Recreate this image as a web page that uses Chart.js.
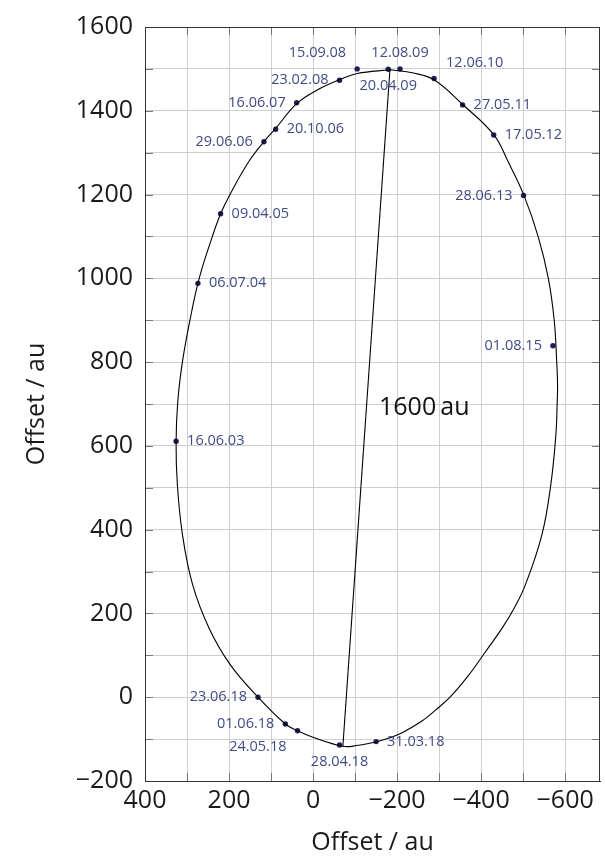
<!DOCTYPE html>
<html>
<head>
<meta charset="utf-8">
<script src="https://cdn.jsdelivr.net/npm/chart.js@4.4.1/dist/chart.umd.min.js"></script>
<style>
  html, body { margin: 0; padding: 0; background: #fff; }
  #wrap { width: 605px; height: 859px; }
</style>
</head>
<body>
<div id="wrap"><canvas id="orbitChart"></canvas></div>
<script>
// observation dates and offsets (au)
const dates = ['16.06.03', '06.07.04', '09.04.05', '29.06.06', '20.10.06', '16.06.07', '23.02.08',
  '15.09.08', '20.04.09', '12.08.09', '12.06.10', '27.05.11', '17.05.12', '28.06.13', '01.08.15',
  '31.03.18', '28.04.18', '24.05.18', '01.06.18', '23.06.18'];
const offsetX = [326, 274, 220, 117, 89, 39, -63, -105, -179, -207, -288, -356, -430, -501, -571,
  -150, -63, 37, 66, 131];
const offsetY = [611, 988, 1154, 1326, 1356, 1419, 1473, 1500, 1499, 1500, 1477, 1414, 1342, 1198, 839,
  -106, -114, -80, -64, 0];

// orbit outline (clockwise from apocentre)
const orbitX = [-183, -239, -288, -356, -430, -465, -502, -536, -560, -574, -580, -582, -581, -578,
  -566, -545, -506, -480, -450, -410, -370, -326, -290, -263, -207, -160, -100, -71, -1, 37, 66,
  131, 198, 248, 287, 311, 323, 326, 322, 311, 293, 271, 240, 220, 199, 154, 117, 89, 39, -9, -63,
  -105, -183];
const orbitY = [1498, 1490, 1474, 1415, 1343, 1277, 1198, 1099, 1000, 900, 800, 746, 700, 627,
  508, 389, 270, 215, 165, 108, 52, 0, -32, -54, -87, -104, -116, -117, -96, -80, -64,
  0, 79, 166, 270, 389, 508, 608, 706, 800, 900, 1000, 1099, 1154, 1198, 1277, 1326, 1358, 1417,
  1449, 1474, 1489, 1498];

// major axis, pericentre to apocentre
const majorX = [-71, -183];
const majorY = [-117, 1498];
const majorLabel = '1600\u2009au';
const majorLabelAt = { x: -157, y: 691 };

// ticks
const xTicks = [400, 300, 200, 100, 0, -100, -200, -300, -400, -500, -600];
const yTicks = [-200, -100, 0, 100, 200, 300, 400, 500, 600, 700, 800, 900, 1000, 1100, 1200, 1300, 1400, 1500, 1600];
const xLabelled = [400, 200, 0, -200, -400, -600];
const yLabelled = [-200, 0, 200, 400, 600, 800, 1000, 1200, 1400, 1600];

// where each date label sits relative to its point
const labelSide = {
  '16.06.03': 'r', '06.07.04': 'r', '09.04.05': 'r', '29.06.06': 'l', '20.10.06': 'r',
  '16.06.07': 'l', '23.02.08': 'l', '15.09.08': 'al', '20.04.09': 'b', '12.08.09': 'a',
  '12.06.10': 'ar', '27.05.11': 'r', '17.05.12': 'r', '28.06.13': 'l', '01.08.15': 'l',
  '31.03.18': 'r', '28.04.18': 'b', '24.05.18': 'bl', '01.06.18': 'l', '23.06.18': 'l'
};

const FONT = "'Open Sans', sans-serif";
const fmt = v => (v < 0 ? '\u2212' + Math.abs(v) : String(v));

const dateLabels = {
  id: 'dateLabels',
  afterDatasetsDraw(chart) {
    const { ctx, scales: { x, y } } = chart;
    ctx.save();
    ctx.font = '14.5px ' + FONT;
    ctx.fillStyle = '#414b85';
    ctx.textBaseline = 'middle';
    dates.forEach((d, i) => {
      const px = x.getPixelForValue(offsetX[i]);
      const py = y.getPixelForValue(offsetY[i]);
      const side = labelSide[d];
      let tx = px, ty = py;
      if (side === 'r') { ctx.textAlign = 'left'; tx += 11; }
      else if (side === 'l') { ctx.textAlign = 'right'; tx -= 11; }
      else if (side === 'a') { ctx.textAlign = 'center'; ty -= 16; }
      else if (side === 'b') { ctx.textAlign = 'center'; ty += 17; }
      else if (side === 'al') { ctx.textAlign = 'right'; tx -= 11; ty -= 16; }
      else if (side === 'ar') { ctx.textAlign = 'left'; tx += 12; ty -= 16; }
      else if (side === 'bl') { ctx.textAlign = 'right'; tx -= 11; ty += 16; }
      ctx.fillText(d, tx, ty);
    });
    // major axis label
    ctx.font = '25px ' + FONT;
    ctx.fillStyle = '#111';
    ctx.textAlign = 'left';
    ctx.fillText(majorLabel, x.getPixelForValue(majorLabelAt.x), y.getPixelForValue(majorLabelAt.y));
    ctx.restore();
  }
};

// frame and inward tick marks
const frame = {
  id: 'frame',
  afterDraw(chart) {
    const { ctx, chartArea: a, scales: { x, y } } = chart;
    ctx.save();
    ctx.strokeStyle = '#777';
    ctx.lineWidth = 1;
    ctx.beginPath();
    xTicks.forEach(v => {
      const px = Math.round(x.getPixelForValue(v)) + 0.5;
      ctx.moveTo(px, a.bottom); ctx.lineTo(px, a.bottom - 8);
      ctx.moveTo(px, a.top); ctx.lineTo(px, a.top + 8);
    });
    yTicks.forEach(v => {
      const py = Math.round(y.getPixelForValue(v)) + 0.5;
      ctx.moveTo(a.left, py); ctx.lineTo(a.left + 8, py);
      ctx.moveTo(a.right, py); ctx.lineTo(a.right - 8, py);
    });
    ctx.stroke();
    ctx.strokeStyle = '#333';
    ctx.strokeRect(Math.round(a.left) + 0.5, Math.round(a.top) + 0.5,
      Math.round(a.right - a.left) - 1, Math.round(a.bottom - a.top));
    ctx.restore();
  }
};

const orbitData = orbitX.map((v, i) => ({ x: v, y: orbitY[i] }));
const majorData = majorX.map((v, i) => ({ x: v, y: majorY[i] }));
const pointData = offsetX.map((v, i) => ({ x: v, y: offsetY[i] }));

new Chart(document.getElementById('orbitChart'), {
  type: 'scatter',
  data: {
    datasets: [
      {
        label: 'orbit',
        data: orbitData,
        showLine: true,
        borderColor: '#000',
        borderWidth: 1.1,
        pointRadius: 0,
        tension: 0.4,
        fill: false
      },
      {
        label: 'major axis',
        data: majorData,
        showLine: true,
        borderColor: '#000',
        borderWidth: 1.1,
        pointRadius: 0,
        fill: false
      },
      {
        label: 'S2',
        data: pointData,
        pointRadius: 2.7,
        pointBackgroundColor: '#1c2058',
        pointBorderWidth: 0,
        showLine: false
      }
    ]
  },
  options: {
    responsive: true,
    maintainAspectRatio: false,
    animation: false,
    events: [],
    layout: { padding: { top: 24, right: 5, left: 0, bottom: 0 } },
    plugins: { legend: { display: false }, tooltip: { enabled: false } },
    scales: {
      x: {
        type: 'linear',
        reverse: true,
        min: -683,
        max: 400,
        afterBuildTicks: s => { s.ticks = xTicks.map(v => ({ value: v })); },
        afterFit: s => { s.height = 78; },
        grid: { color: '#cfcfcf', lineWidth: 1, drawTicks: false },
        border: { display: true, color: '#333' },
        ticks: {
          autoSkip: false,
          maxRotation: 0,
          padding: 5,
          color: '#1a1a1a',
          font: { family: FONT, size: 25 },
          callback: v => (xLabelled.includes(v) ? fmt(v) : '')
        },
        title: {
          display: true,
          text: 'Offset / au',
          color: '#1a1a1a',
          font: { family: FONT, size: 25 },
          padding: { top: 0, bottom: 1 }
        }
      },
      y: {
        type: 'linear',
        min: -200,
        max: 1600,
        afterBuildTicks: s => { s.ticks = yTicks.map(v => ({ value: v })); },
        afterFit: s => { s.width = 145; },
        grid: { color: '#cfcfcf', lineWidth: 1, drawTicks: false },
        border: { display: true, color: '#333' },
        ticks: {
          autoSkip: false,
          padding: 12,
          color: '#1a1a1a',
          font: { family: FONT, size: 25 },
          callback: v => (yLabelled.includes(v) ? fmt(v) : '')
        },
        title: {
          display: true,
          text: 'Offset / au',
          color: '#1a1a1a',
          font: { family: FONT, size: 25 },
          padding: { top: 22, bottom: 0 }
        }
      }
    }
  },
  plugins: [dateLabels, frame]
});
</script>
</body>
</html>
